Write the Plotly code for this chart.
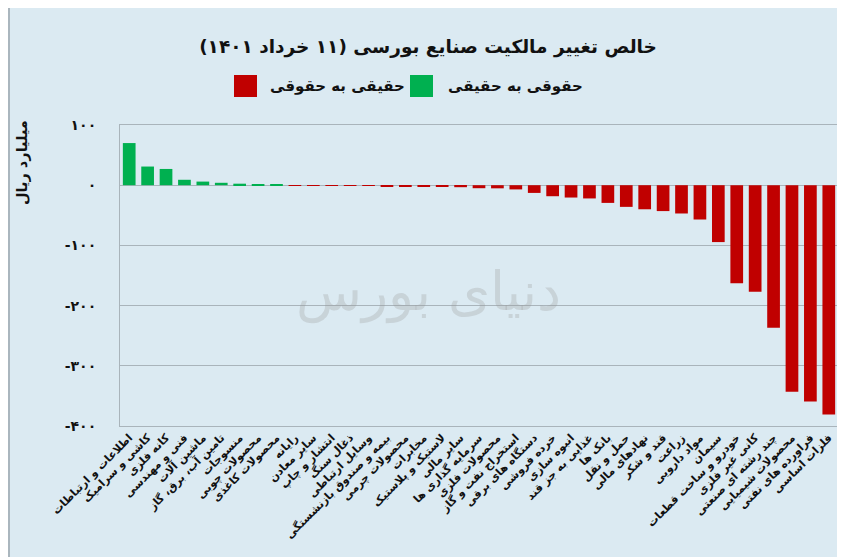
import plotly.graph_objects as go

categories = [
    "اطلاعات و ارتباطات", "کاشی و سرامیک", "کانه فلزی", "فنی و مهندسی", "ماشین آلات",
    "تامین آب، برق، گاز", "منسوجات", "محصولات چوبی", "محصولات کاغذی", "رایانه",
    "سایر معادن", "انتشار و چاپ", "ذغال سنگ", "وسایل ارتباطی", "بیمه و صندوق بازنشستگی",
    "محصولات چرمی", "مخابرات", "لاستیک و پلاستیک", "سایر مالی", "سرمایه گذاری ها",
    "محصولات فلزی", "استخراج نفت و گاز", "دستگاه های برقی", "خرده فروشی", "انبوه سازی",
    "غذایی به جز قند", "بانک ها", "حمل و نقل", "نهادهای مالی", "قند و شکر",
    "زراعت", "مواد دارویی", "سیمان", "خودرو و ساخت قطعات", "کانی غیر فلزی",
    "چند رشته ای صنعتی", "محصولات شیمیایی", "فراورده های نفتی", "فلزات اساسی",
]

values = [
    70, 31, 27, 9, 6, 4, 2.5, 1.2, 0.8, -0.3,
    -0.5, -0.7, -1.0, -1.3, -1.8, -2.2, -2.8, -3.0, -3.3, -5.0,
    -5.2, -7.0, -12.8, -18.3, -20.5, -22, -29.4, -36, -40, -43,
    -47, -57, -94.5, -163, -177, -237, -343, -359.5, -381,
]

y_tick_vals = [100, 0, -100, -200, -300, -400]
y_tick_text = ["۱۰۰", "۰", "-۱۰۰", "-۲۰۰", "-۳۰۰", "-۴۰۰"]

series_pos_name = "حقوقی به حقیقی"
series_neg_name = "حقیقی به حقوقی"
title_text = "خالص تغییر مالکیت صنایع بورسی (۱۱ خرداد ۱۴۰۱)"
y_title = "میلیارد ریال"
watermark = "دنیای بورس"

GREEN = "#00b050"
RED = "#c00000"
BG = "#dbeaf2"
GRID = "#a9b4bb"
TXT = "#111111"

# page has an 8px body margin -> figure drawn from (8, 8)
OFF = 8
W, H = 845 - OFF, 557 - OFF
L, R, T, B = 112, 7, 117, 131
pw, ph = W - L - R, H - T - B


def px(xf):
    return (xf - OFF - L) / pw


def py(yf):
    return (H - B - (yf - OFF)) / ph


neg_x = [c for c, v in zip(categories, values) if v < 0]
neg_y = [v for v in values if v < 0]
pos_x = [c for c, v in zip(categories, values) if v >= 0]
pos_y = [v for v in values if v >= 0]

fig = go.Figure()
fig.add_trace(go.Bar(x=neg_x, y=neg_y, name=series_neg_name, marker_color=RED,
                     marker_line_width=0, showlegend=False))
fig.add_trace(go.Bar(x=pos_x, y=pos_y, name=series_pos_name, marker_color=GREEN,
                     marker_line_width=0, showlegend=False))

font_family = "DejaVu Sans, sans-serif"

fig.update_layout(
    width=W, height=H,
    margin=dict(l=L, r=R, t=T, b=B, autoexpand=False),
    paper_bgcolor=BG, plot_bgcolor=BG,
    font=dict(family=font_family, color=TXT),
    bargap=0.31,
    title=dict(text="<b>" + title_text + "</b>", x=(428 - OFF) / W, xanchor="center",
               y=1 - (47 - OFF) / H, yanchor="middle", yref="container",
               font=dict(size=18.5, color=TXT)),
    xaxis=dict(categoryorder="array", categoryarray=categories,
               tickvals=categories, ticktext=["<b>" + c + "</b>" for c in categories],
               tickangle=-45, tickfont=dict(size=11, color=TXT), automargin=False,
               showline=True, linecolor=GRID, linewidth=1, mirror=True,
               showgrid=False, ticks=""),
    yaxis=dict(range=[-400, 100], tickvals=y_tick_vals,
               ticktext=["<b>" + t + "</b>" for t in y_tick_text],
               tickfont=dict(size=14, color=TXT), automargin=False,
               showline=True, linecolor=GRID, linewidth=1, mirror=True,
               showgrid=True, gridcolor=GRID, gridwidth=1,
               zeroline=True, zerolinecolor=GRID, zerolinewidth=1,
               ticklabelstandoff=20),
)

# legend (drawn with shapes + text to match the large square keys)
legend_items = [
    (RED, series_neg_name, 234, 268),
    (GREEN, series_pos_name, 410, 446),
]
for color, name, sq_x, tx_x in legend_items:
    fig.add_shape(type="rect", xref="paper", yref="paper",
                  x0=px(sq_x), x1=px(sq_x + 23), y0=py(97), y1=py(75),
                  fillcolor=color, line=dict(width=0))
    fig.add_annotation(text="<b>" + name + "</b>", showarrow=False, xref="paper", yref="paper",
                       x=px(tx_x), y=py(86), xanchor="left", yanchor="middle",
                       font=dict(size=15, color=TXT))

# y-axis title as annotation
fig.add_annotation(text="<b>" + y_title + "</b>", textangle=-90, showarrow=False,
                   xref="paper", yref="paper", x=px(22), y=py(163),
                   xanchor="center", yanchor="middle", font=dict(size=14.5, color=TXT))

# watermark
fig.add_annotation(text=watermark, showarrow=False, xref="paper", yref="paper",
                   x=px(428), y=py(292), xanchor="center", yanchor="middle",
                   font=dict(size=54, color="rgba(150,150,150,0.28)", family="DejaVu Serif, serif"))

# outer border line on left edge of the picture
fig.add_shape(type="line", xref="paper", yref="paper", x0=px(9), x1=px(9),
              y0=py(557), y1=py(0), line=dict(color="#9aa5ad", width=1.5))

fig.write_html("out.html")
